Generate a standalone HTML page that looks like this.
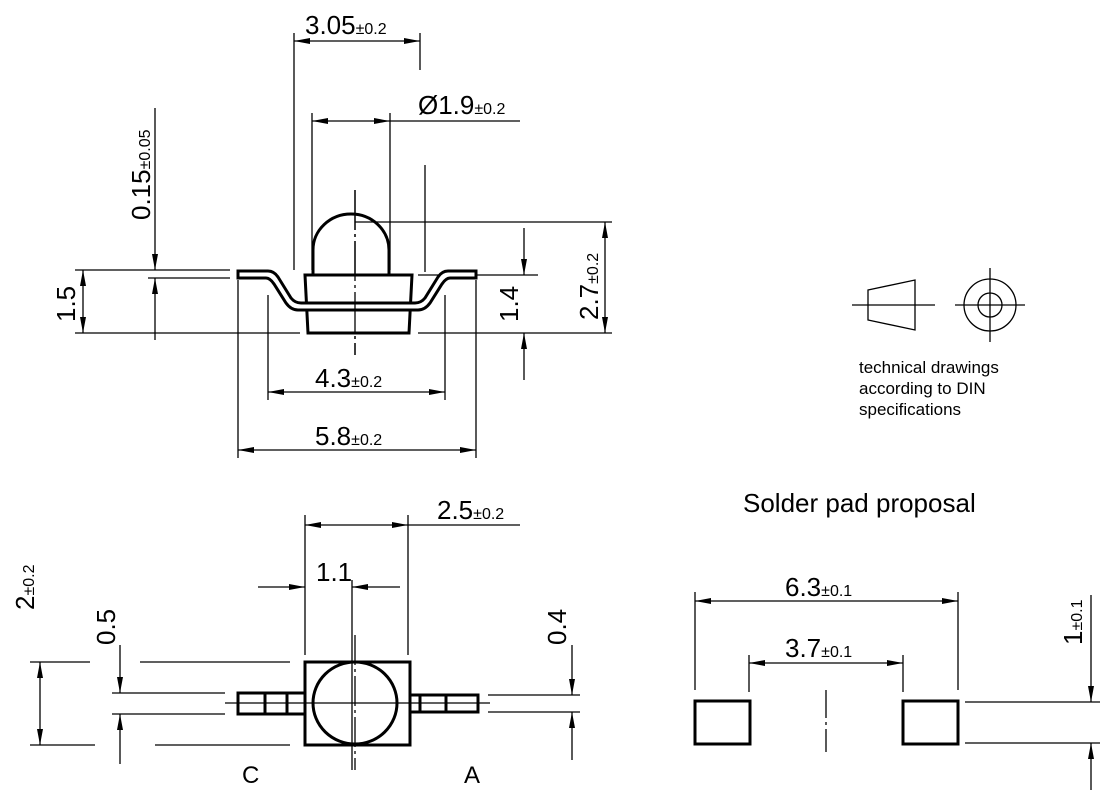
<!DOCTYPE html>
<html><head><meta charset="utf-8"><style>
html,body{margin:0;padding:0;background:#fff;}
svg{display:block;}
text{font-family:"Liberation Sans Narrow","Liberation Sans",sans-serif;fill:#000;}
.b{font-size:26px;}
.s{font-size:16px;}
</style></head><body>
<svg width="1108" height="800" viewBox="0 0 1108 800" xmlns="http://www.w3.org/2000/svg">
<defs>
<marker id="a" viewBox="0 0 16 6" refX="16" refY="3" markerWidth="16" markerHeight="6" markerUnits="userSpaceOnUse" orient="auto-start-reverse">
<path d="M0,0 L16,3 L0,6 Z" fill="#000"/></marker>
</defs>
<g stroke="#000" stroke-width="1.3" fill="none">
<!-- top view dimensions -->
<line x1="294" y1="33" x2="294" y2="270"/>
<line x1="420" y1="33" x2="420" y2="70"/>
<line x1="425" y1="165" x2="425" y2="272"/>
<line x1="294" y1="41" x2="420" y2="41" marker-start="url(#a)" marker-end="url(#a)"/>
<line x1="312" y1="113" x2="312" y2="270"/>
<line x1="390" y1="113" x2="390" y2="270"/>
<line x1="312" y1="121" x2="390" y2="121" marker-start="url(#a)" marker-end="url(#a)"/>
<line x1="390" y1="121" x2="520" y2="121"/>
<!-- 0.15 -->
<line x1="155" y1="108" x2="155" y2="270" marker-end="url(#a)"/>
<line x1="155" y1="340" x2="155" y2="278" marker-end="url(#a)"/>
<line x1="148" y1="278" x2="230" y2="278"/>
<!-- 1.5 -->
<line x1="75" y1="270" x2="230" y2="270"/>
<line x1="75" y1="333" x2="300" y2="333"/>
<line x1="83" y1="270" x2="83" y2="333" marker-start="url(#a)" marker-end="url(#a)"/>
<!-- 1.4 / 2.7 -->
<line x1="418" y1="275" x2="538" y2="275"/>
<line x1="418" y1="333" x2="612" y2="333"/>
<line x1="355" y1="222" x2="612" y2="222"/>
<line x1="524" y1="228" x2="524" y2="275" marker-end="url(#a)"/>
<line x1="524" y1="380" x2="524" y2="333" marker-end="url(#a)"/>
<line x1="605" y1="222" x2="605" y2="333" marker-start="url(#a)" marker-end="url(#a)"/>
<!-- 4.3 / 5.8 -->
<line x1="268" y1="295" x2="268" y2="400"/>
<line x1="445" y1="295" x2="445" y2="400"/>
<line x1="268" y1="392" x2="445" y2="392" marker-start="url(#a)" marker-end="url(#a)"/>
<line x1="238" y1="280" x2="238" y2="458"/>
<line x1="476" y1="280" x2="476" y2="458"/>
<line x1="238" y1="450" x2="476" y2="450" marker-start="url(#a)" marker-end="url(#a)"/>
<line x1="355" y1="190" x2="355" y2="355" stroke-dasharray="40,4,3,4"/>
</g>
<!-- top view body -->
<g stroke="#000" fill="none" stroke-width="3">
<path d="M313,275 L313,250 A38,36 0 0 1 389,250 L389,275"/>
<path d="M305,275 L412,275 L409,333 L308,333 Z" fill="#fff"/>
<path d="M238,271 L268,271 Q274,271 278,277 L291,298 Q295,303 301,303 L415,303 Q421,303 425,298 L438,277 Q442,271 448,271 L476,271 L476,278 L450,278 Q446,278 442,284 L430,303 Q425,310 418,310 L298,310 Q291,310 286,303 L274,284 Q270,278 266,278 L238,278 Z" fill="#fff"/>
</g>
<line x1="355" y1="190" x2="355" y2="355" stroke="#000" stroke-width="1.3" stroke-dasharray="40,4,3,4"/>
<!-- DIN logo -->
<g stroke="#000" stroke-width="1.3" fill="none">
<line x1="852" y1="305" x2="935" y2="305"/>
<path d="M868,290 L915,280 L915,330 L868,320 Z"/>
<circle cx="990" cy="305" r="26"/>
<circle cx="990" cy="305" r="12"/>
<line x1="955" y1="305" x2="1025" y2="305"/>
<line x1="990" y1="268" x2="990" y2="342"/>
</g>
<text x="859" y="373" style="font-size:17px">technical drawings</text>
<text x="859" y="394" style="font-size:17px">according to DIN</text>
<text x="859" y="415" style="font-size:17px">specifications</text>
<!-- top texts -->
<text x="305" y="34" class="b">3.05<tspan class="s">±0.2</tspan></text>
<text x="418" y="114" class="b">Ø1.9<tspan class="s">±0.2</tspan></text>
<text x="315" y="387" class="b">4.3<tspan class="s">±0.2</tspan></text>
<text x="315" y="445" class="b">5.8<tspan class="s">±0.2</tspan></text>
<text transform="translate(150,220) rotate(-90)" class="b">0.15<tspan class="s">±0.05</tspan></text>
<text transform="translate(75,322) rotate(-90)" class="b">1.5</text>
<text transform="translate(518,322) rotate(-90)" class="b">1.4</text>
<text transform="translate(598,320) rotate(-90)" class="b">2.7<tspan class="s">±0.2</tspan></text>
<!-- bottom left view -->
<g stroke="#000" stroke-width="1.3" fill="none">
<line x1="305" y1="515" x2="305" y2="655"/>
<line x1="408" y1="515" x2="408" y2="655"/>
<line x1="305" y1="525" x2="408" y2="525" marker-start="url(#a)" marker-end="url(#a)"/>
<line x1="408" y1="525" x2="520" y2="525"/>
<line x1="258" y1="587" x2="305" y2="587" marker-end="url(#a)"/>
<line x1="400" y1="587" x2="352" y2="587" marker-end="url(#a)"/>
<line x1="352" y1="580" x2="352" y2="770"/>
<line x1="30" y1="662" x2="90" y2="662"/><line x1="140" y1="662" x2="290" y2="662"/>
<line x1="30" y1="745" x2="95" y2="745"/><line x1="155" y1="745" x2="290" y2="745"/>
<line x1="40" y1="662" x2="40" y2="745" marker-start="url(#a)" marker-end="url(#a)"/>
<line x1="112" y1="693" x2="225" y2="693"/><line x1="112" y1="714" x2="225" y2="714"/>
<line x1="120" y1="645" x2="120" y2="693" marker-end="url(#a)"/>
<line x1="120" y1="764" x2="120" y2="714" marker-end="url(#a)"/>
<line x1="488" y1="695" x2="580" y2="695"/><line x1="488" y1="712" x2="580" y2="712"/>
<line x1="572" y1="645" x2="572" y2="695" marker-end="url(#a)"/>
<line x1="572" y1="760" x2="572" y2="712" marker-end="url(#a)"/>
</g>
<g stroke="#000" stroke-width="3" fill="none">
<rect x="238" y="693" width="67" height="21"/>
<line x1="265" y1="693" x2="265" y2="714"/><line x1="287" y1="693" x2="287" y2="714"/>
<rect x="410" y="695" width="68" height="17"/>
<line x1="420" y1="695" x2="420" y2="712"/><line x1="446" y1="695" x2="446" y2="712"/>
<rect x="305" y="662" width="105" height="83"/>
<ellipse cx="355" cy="703" rx="42" ry="41"/>
</g>
<g stroke="#000" stroke-width="1.3">
<line x1="225" y1="703" x2="490" y2="703"/>
<line x1="355" y1="635" x2="355" y2="770" stroke-dasharray="30,4,3,4"/>
</g>
<text x="437" y="519" class="b">2.5<tspan class="s">±0.2</tspan></text>
<text x="316" y="581" class="b">1.1</text>
<text transform="translate(34,610) rotate(-90)" class="b">2<tspan class="s">±0.2</tspan></text>
<text transform="translate(115,645) rotate(-90)" class="b">0.5</text>
<text transform="translate(566,645) rotate(-90)" class="b">0.4</text>
<text x="242" y="783" style="font-size:24px">C</text>
<text x="464" y="783" style="font-size:24px">A</text>
<!-- solder pad -->
<text x="743" y="512" style="font-size:26px">Solder pad proposal</text>
<g stroke="#000" stroke-width="1.3" fill="none">
<line x1="695" y1="592" x2="695" y2="690"/>
<line x1="958" y1="592" x2="958" y2="690"/>
<line x1="695" y1="601" x2="958" y2="601" marker-start="url(#a)" marker-end="url(#a)"/>
<line x1="749" y1="655" x2="749" y2="692"/>
<line x1="903" y1="655" x2="903" y2="692"/>
<line x1="749" y1="663" x2="903" y2="663" marker-start="url(#a)" marker-end="url(#a)"/>
<line x1="826" y1="690" x2="826" y2="752" stroke-dasharray="28,4,3,4"/>
<line x1="965" y1="702" x2="1100" y2="702"/>
<line x1="965" y1="743" x2="1100" y2="743"/>
<line x1="1091" y1="595" x2="1091" y2="702" marker-end="url(#a)"/>
<line x1="1091" y1="790" x2="1091" y2="743" marker-end="url(#a)"/>
</g>
<g stroke="#000" stroke-width="3" fill="none">
<rect x="695" y="701" width="55" height="43"/>
<rect x="903" y="701" width="55" height="43"/>
</g>
<text x="785" y="596" class="b">6.3<tspan class="s">±0.1</tspan></text>
<text x="785" y="657" class="b">3.7<tspan class="s">±0.1</tspan></text>
<text transform="translate(1082,645) rotate(-90)" class="b">1<tspan class="s">±0.1</tspan></text>
</svg>
</body></html>
